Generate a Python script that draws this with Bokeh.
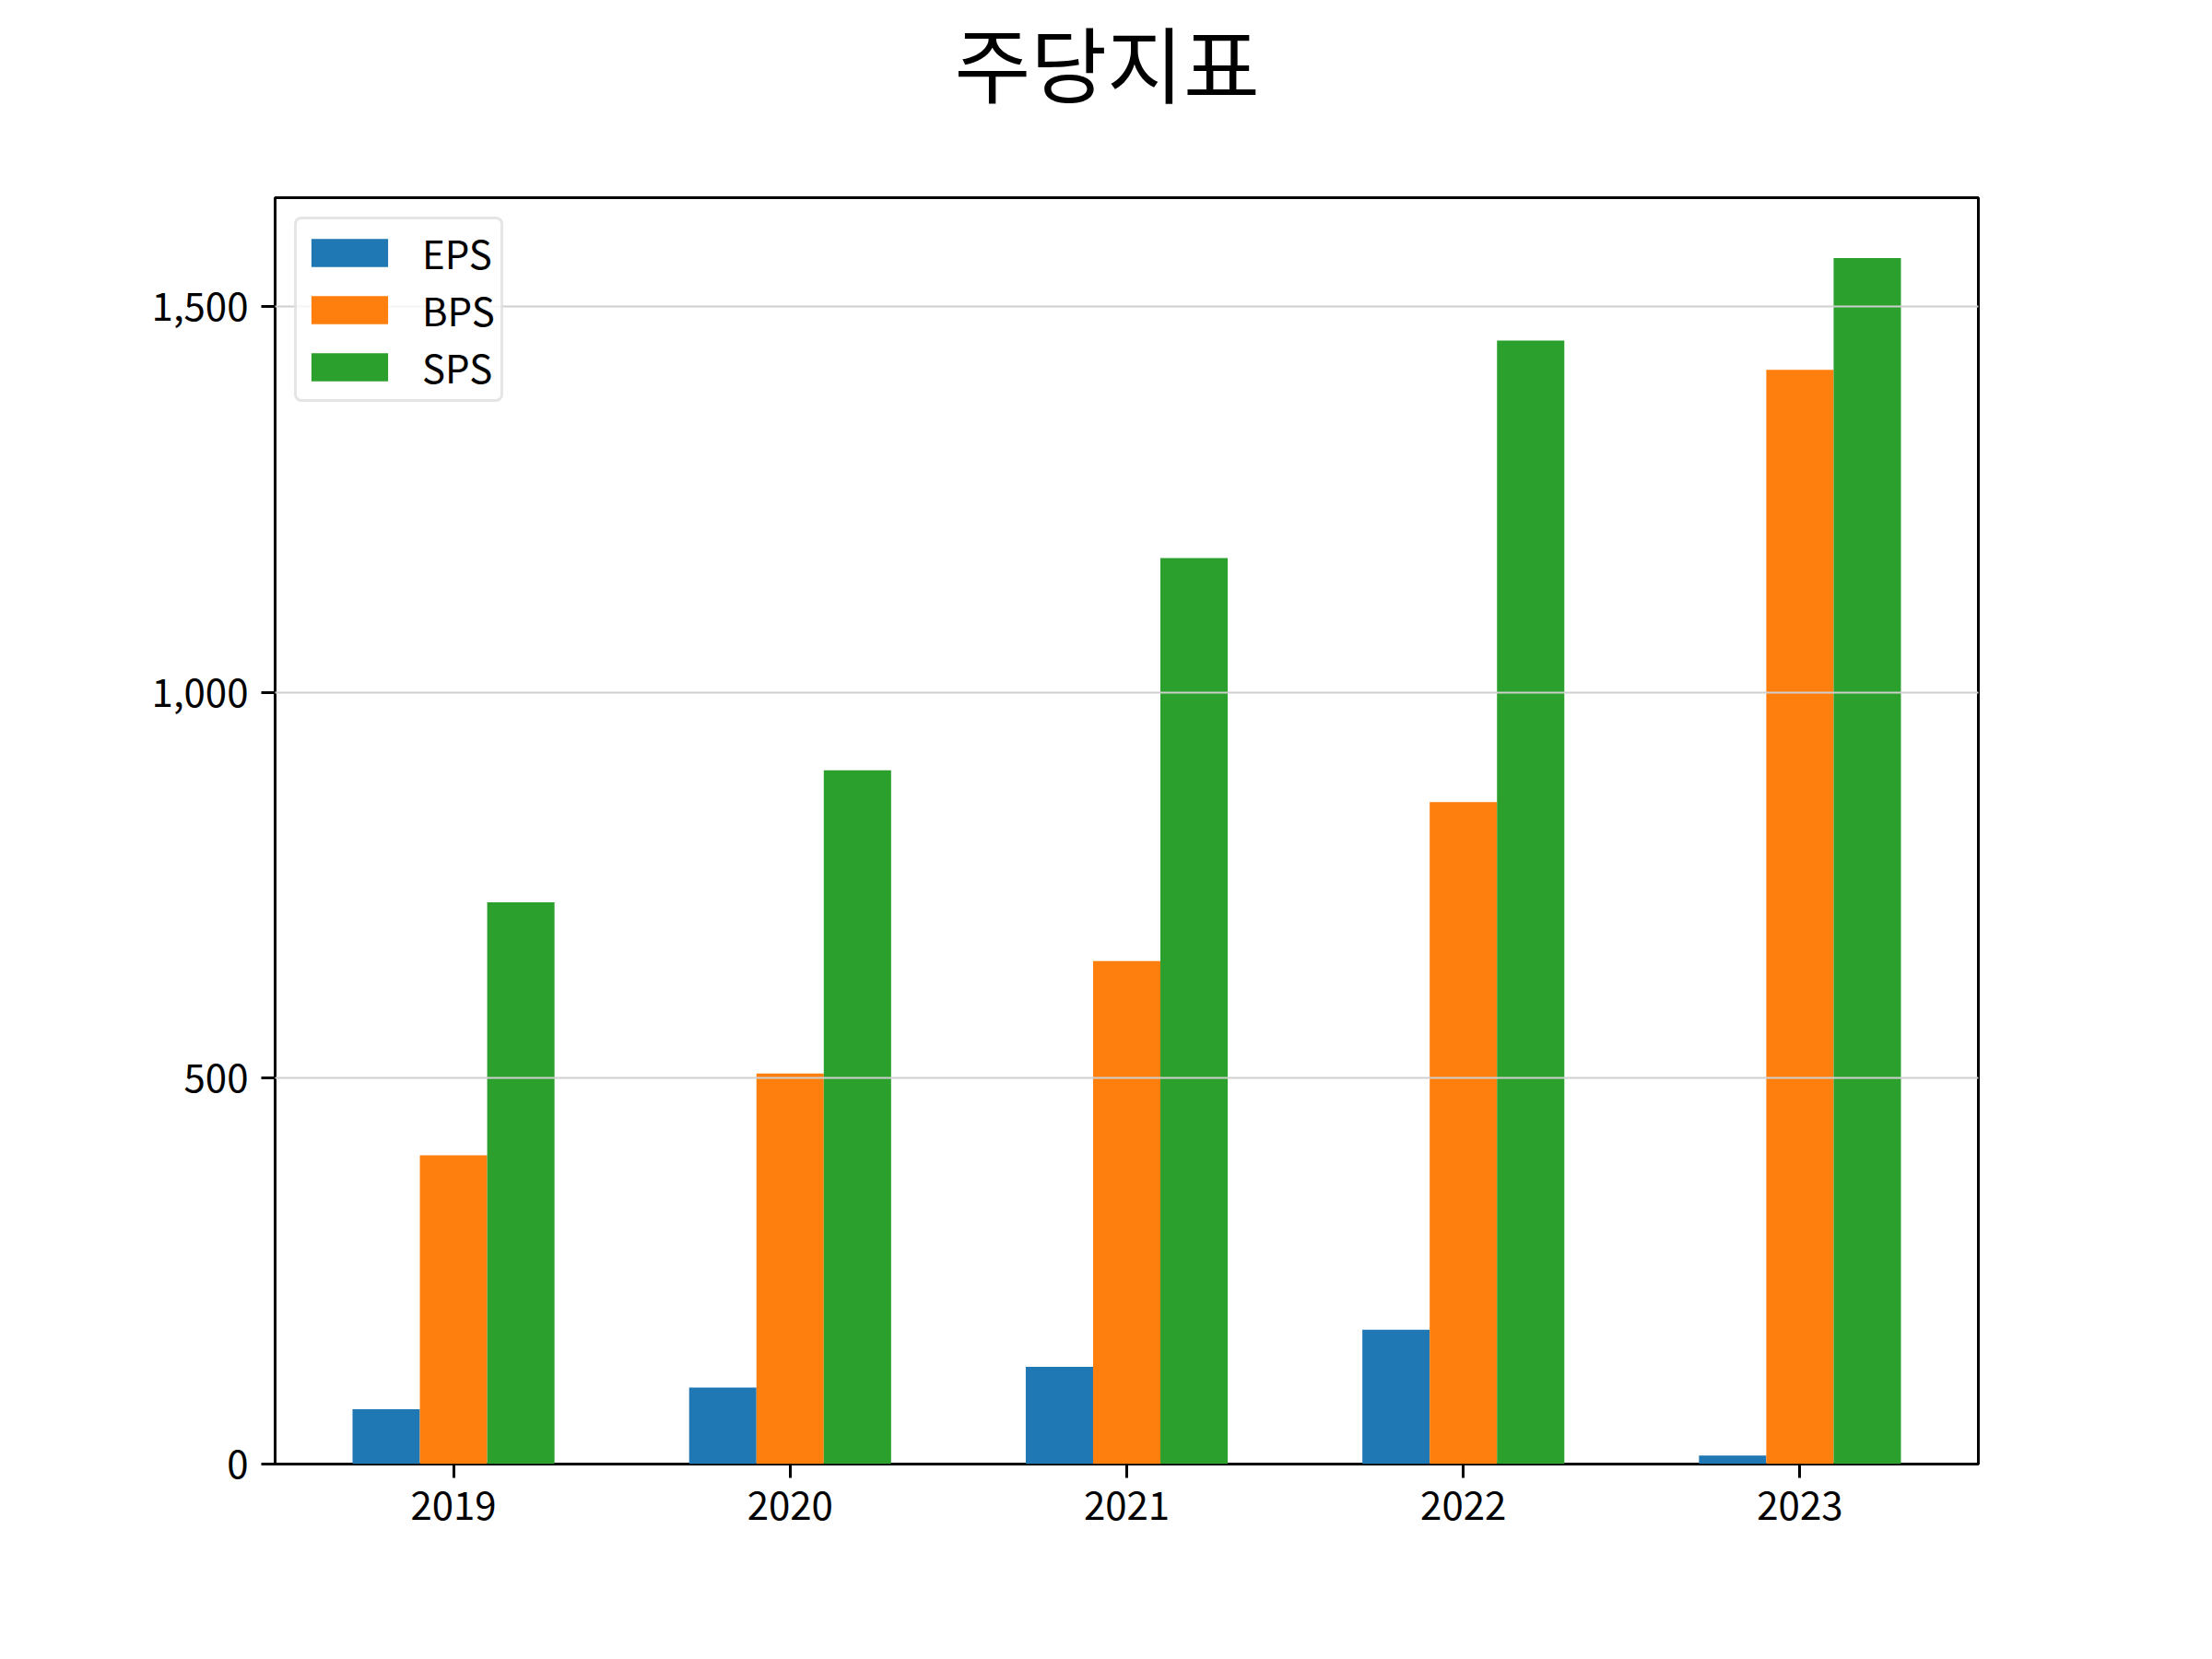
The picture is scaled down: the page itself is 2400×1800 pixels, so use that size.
from bokeh.plotting import figure
from bokeh.models import ColumnDataSource, FixedTicker, NumeralTickFormatter, Range1d, Legend, LegendItem, Title
from bokeh.transform import dodge
from bokeh.embed import file_html
from bokeh.resources import INLINE

years = ["2019", "2020", "2021", "2022", "2023"]
eps = [71, 99, 126, 174, 11]
bps = [400, 506, 652, 858, 1418]
sps = [728, 899, 1174, 1456, 1563]
series_names = ["EPS", "BPS", "SPS"]
colors = ["#1f77b4", "#ff7f0e", "#2ca02c"]
yticks = [0, 500, 1000, 1500]
title_text = "주당지표"

FONT = "Noto Sans CJK KR"

# layout geometry (pixels)
W, H = 2384, 1784
BL, BR, BT, BB = 298, 238, 214, 196
X0, X1 = -0.53, 4.53
Y1 = 1.05 * max(sps)

xs = list(range(len(years)))
src = ColumnDataSource(dict(x=xs, EPS=eps, BPS=bps, SPS=sps))

p = figure(width=W, height=H, output_backend="svg", toolbar_location=None,
           x_range=Range1d(X0, X1), y_range=Range1d(0, Y1),
           min_border_left=BL, min_border_right=BR, min_border_top=BT,
           min_border_bottom=BB)

p.title = Title(text=title_text, text_font=FONT, text_font_size="90px",
                text_font_style="normal", text_color="black",
                align="left", offset=737, vertical_align="top", standoff=0)
# spacer between title and frame
p.add_layout(Title(text=" ", text_font_size="1px", standoff=79), "above")

renderers = []
for i, (name, col) in enumerate(zip(series_names, colors)):
    r = p.vbar(x=dodge("x", (i - 1) * 0.2, range=p.x_range), top=name, width=0.2,
               source=src, fill_color=col, line_color=None)
    renderers.append(r)

legend = Legend(items=[LegendItem(label=n, renderers=[r]) for n, r in zip(series_names, renderers)],
                location="top_left", margin=21, padding=5, spacing=1,
                glyph_width=104, glyph_height=38, label_standoff=27, label_width=80,
                label_text_font=FONT, label_text_font_size="42px", label_text_color="black",
                border_line_color="#cccccc", border_line_width=3, border_radius=8,
                background_fill_alpha=0.8)
p.add_layout(legend)

p.xgrid.visible = False
p.ygrid.ticker = FixedTicker(ticks=yticks)
p.ygrid.grid_line_color = "#cfcfcf"
p.ygrid.grid_line_width = 2
p.ygrid.level = "guide"

p.yaxis.ticker = FixedTicker(ticks=yticks)
p.yaxis.formatter = NumeralTickFormatter(format="0,0")
p.xaxis.ticker = FixedTicker(ticks=xs)
p.xaxis.major_label_overrides = {i: y for i, y in enumerate(years)}

for ax in (p.xaxis, p.yaxis):
    ax.axis_line_color = None
    ax.major_tick_out = 15
    ax.major_tick_in = 0
    ax.major_tick_line_width = 3
    ax.major_tick_line_color = "black"
    ax.minor_tick_line_color = None
    ax.major_label_text_font = FONT
    ax.major_label_text_font_size = "42px"
    ax.major_label_text_color = "black"
    ax.major_label_standoff = 14

p.outline_line_color = "black"
p.outline_line_width = 3
p.outline_line_alpha = 1.0
p.background_fill_color = "white"
p.border_fill_color = "white"

open("out.html", "w").write(file_html(p, INLINE))
